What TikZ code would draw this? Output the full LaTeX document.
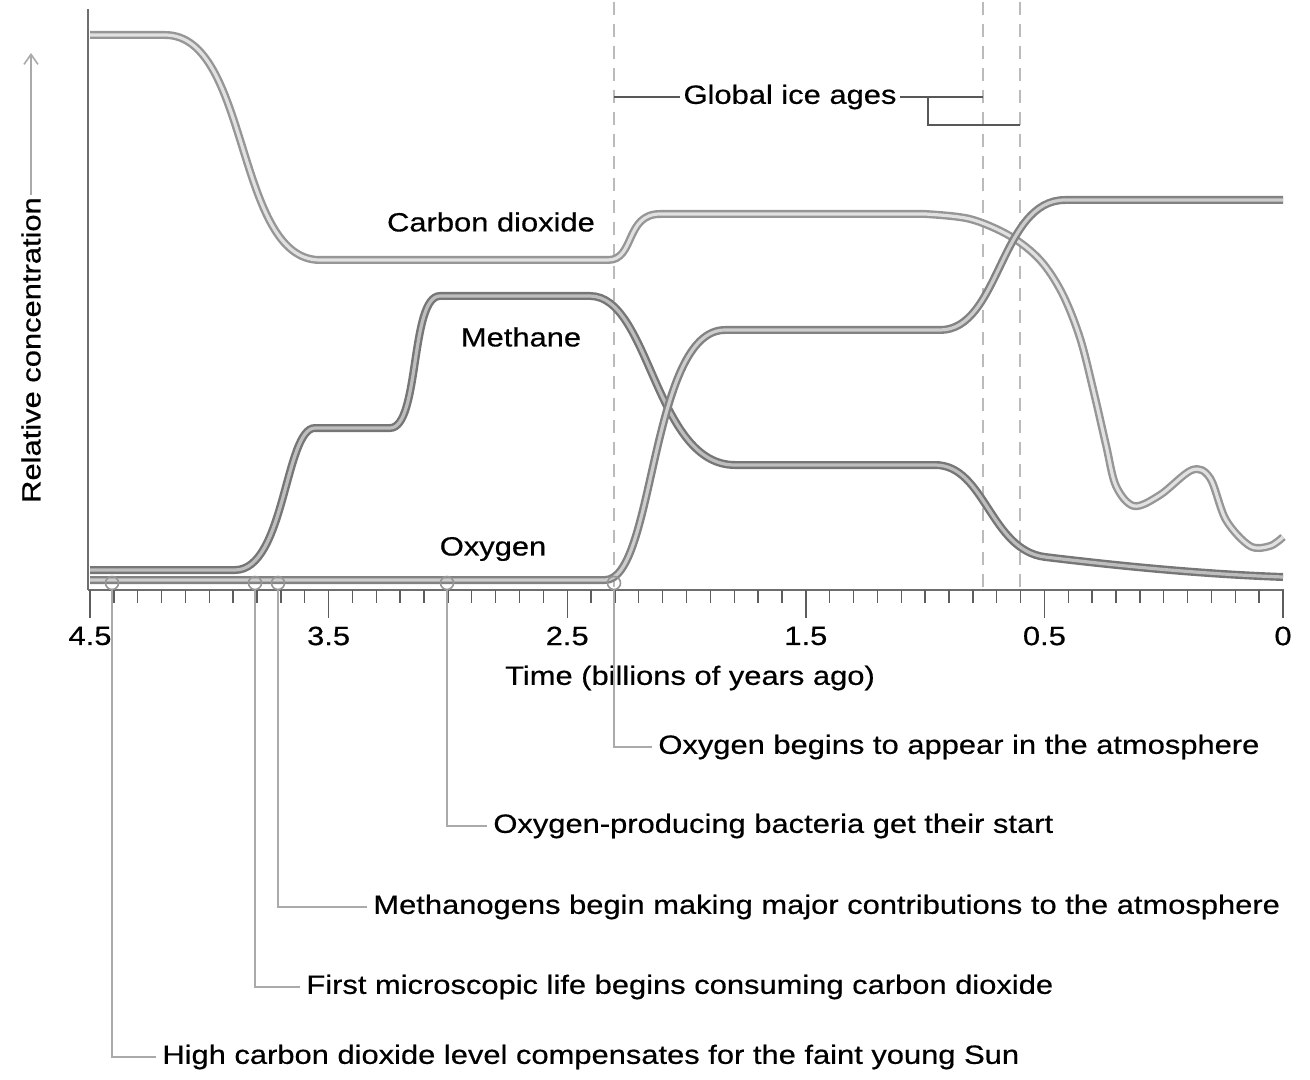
\documentclass[tikz,border=0pt]{standalone}
\usepackage{fontspec}
\setmainfont{Liberation Sans}[FakeStretch=1.17,FakeBold=0.5]
\usetikzlibrary{arrows.meta}
\definecolor{ejeg}{RGB}{110,110,110}
\definecolor{coout}{RGB}{150,150,150}
\definecolor{coin}{RGB}{225,225,225}
\definecolor{chout}{RGB}{118,118,118}
\definecolor{chin}{RGB}{190,190,190}
\definecolor{oxout}{RGB}{130,130,130}
\definecolor{oxin}{RGB}{205,205,205}
\definecolor{llam}{RGB}{170,170,170}
\newcommand{\lbl}{\fontsize{13.2}{15}\selectfont}
\tikzset{
  co2/.style={draw=coout, double=coin, line width=1.2pt, double distance=1.6pt},
  ch4/.style={draw=chout, double=chin, line width=1.2pt, double distance=1.6pt},
  oxi/.style={draw=oxout, double=oxin, line width=1.2pt, double distance=1.6pt},
  eje/.style={draw=ejeg, line width=1.4pt},
  tic/.style={draw=ejeg!85!black, line width=0.7pt},
  hielo/.style={draw=llam!80, line width=1pt, dash pattern=on 6.5pt off 4.5pt},
  brk/.style={draw=ejeg!80!black, line width=0.8pt},
  llamada/.style={draw=llam, line width=1.3pt},
  marca/.style={circle, draw=coout, line width=0.8pt, minimum size=6.5pt, inner sep=0pt},
  ev/.style={anchor=west, inner sep=3pt},
  et/.style={inner sep=1.5pt},
}

\begin{document}
\begin{tikzpicture}[x=0.5pt,y=-0.5pt,font=\lbl]
  \useasboundingbox (0,0) rectangle (1310,1080);
  % ice ages
  \draw[hielo] (614,2) -- (614,590);
  \draw[hielo] (983,2) -- (983,590);
  \draw[hielo] (1020,2) -- (1020,590);
  \node[et] (ice) at (790,97) {Global ice ages};
  \coordinate (g0) at (614,97);
  \coordinate (g1) at (983,97);
  \coordinate (g2) at (928,97);
  \coordinate (g3) at (1020,125);
  \draw[brk] (ice.west) -- (g0);
  \draw[brk] (ice.east) -- (g1);
  \draw[brk] (g2) |- (g3);
  % curves
  \draw[co2] (90,35) -- (165,35) .. controls (250,35) and (235,260) .. (320,260) -- (608,260)
    .. controls (635,260) and (625,214) .. (660,214) -- (925,214)
    -- plot[smooth,tension=0.55] coordinates {(925,214) (970,219) (1010,236) (1040,260) (1062,293) (1080,338)
      (1094,393) (1106,445) (1116,486) (1134,506) (1160,495) (1192,470) (1210,478) (1226,520) (1250,546) (1270,546) (1283,537)};
  \draw[ch4] (90,570) -- (235,570) .. controls (285,570) and (285,428) .. (315,428) -- (390,428)
    .. controls (420,428) and (410,296) .. (440,296) -- (590,296)
    .. controls (650,296) and (655,465) .. (735,465) -- (935,465)
    .. controls (985,465) and (990,550) .. (1045,557) .. controls (1120,566) and (1200,574) .. (1283,577);
  \draw[oxi] (90,580) -- (605,580) .. controls (655,580) and (650,330) .. (725,330) -- (940,330)
    .. controls (1000,330) and (1000,200) .. (1065,200) -- (1283,200);
  % axes
  \draw[eje] (88,9) -- (88,590);
  \draw[eje] (88,590) -- (1284,590);
  \foreach \i in {0,...,50} \draw[tic] ({90+\i*23.86},590) -- ++(0,13);
  \foreach \i/\t in {0/4.5,10/3.5,20/2.5,30/1.5,40/0.5,50/0} {
    \draw[tic] ({90+\i*23.86},590) -- ++(0,28);
    \node at ({90+\i*23.86},636) {\t};
  }
  \node (xlab) at (690,678) {Time (billions of years ago)};
  \node[rotate=90, inner sep=1pt] (ylab) at (31,350) {Relative concentration};
  \coordinate (ytop) at (31,53);
  \draw[draw=llam, line width=0.8pt, -{Straight Barb[length=5pt,width=7pt]}] (ylab.east) -- (ytop);
  % curve labels
  \node at (491,222) {Carbon dioxide};
  \node at (521,337) {Methane};
  \node at (493,549) {Oxygen};
  % events
  \node[marca] (e1) at (112,583) {};
  \node[marca] (e2) at (255,583) {};
  \node[marca] (e3) at (278,583) {};
  \node[marca] (e4) at (447,583) {};
  \node[marca] (e5) at (614,583) {};
  \node[ev] (t1) at (156,1057) {High carbon dioxide level compensates for the faint young Sun};
  \node[ev] (t2) at (300,987) {First microscopic life begins consuming carbon dioxide};
  \node[ev] (t3) at (367,907) {Methanogens begin making major contributions to the atmosphere};
  \node[ev] (t4) at (487,826) {Oxygen-producing bacteria get their start};
  \node[ev] (t5) at (652,747) {Oxygen begins to appear in the atmosphere};
  \draw[llamada] (e1.south) |- (t1.west);
  \draw[llamada] (e2.south) |- (t2.west);
  \draw[llamada] (e3.south) |- (t3.west);
  \draw[llamada] (e4.south) |- (t4.west);
  \draw[llamada] (e5.south) |- (t5.west);
\end{tikzpicture}
\end{document}
